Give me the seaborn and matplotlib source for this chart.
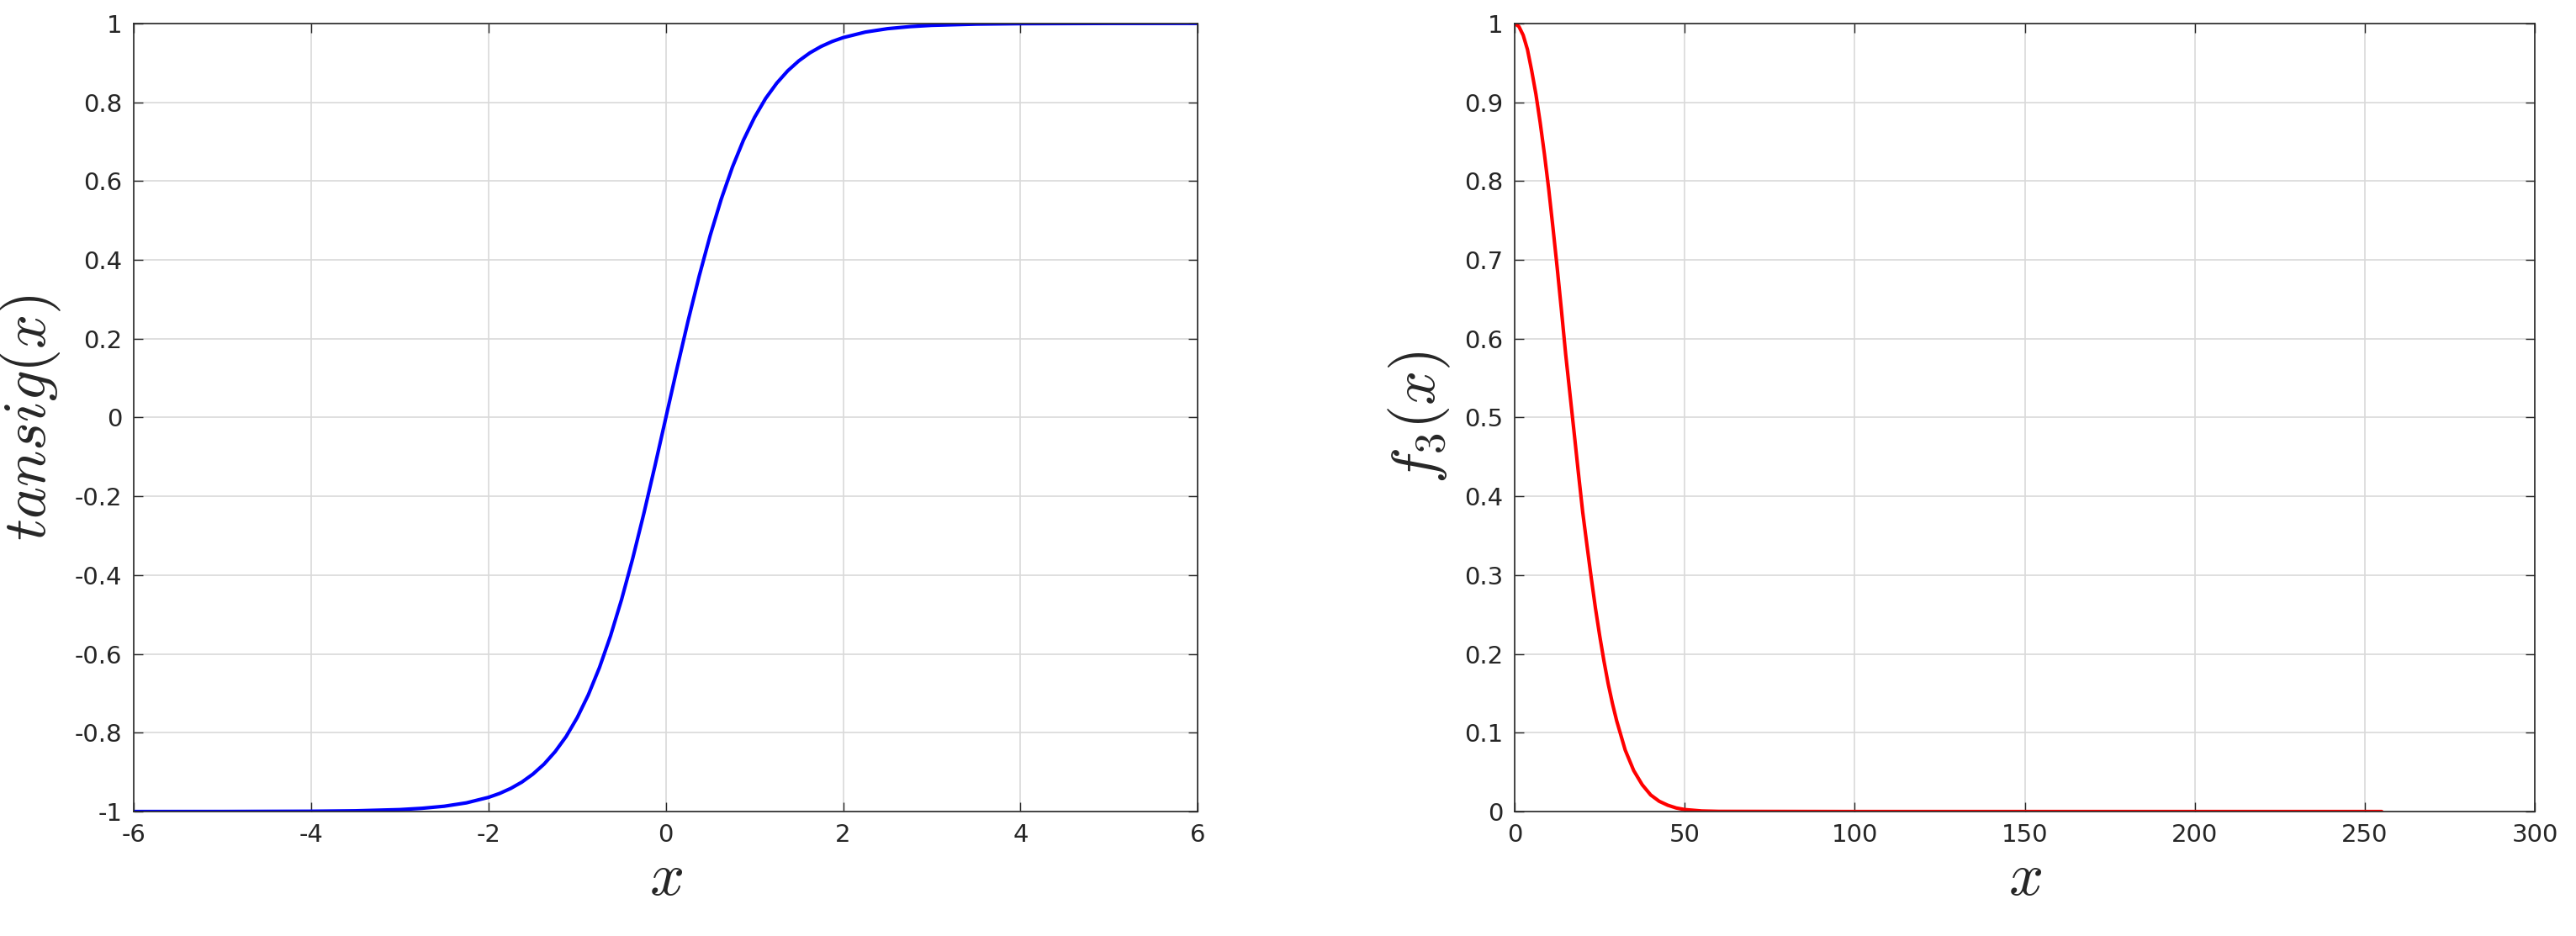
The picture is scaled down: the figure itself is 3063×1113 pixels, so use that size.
import matplotlib
matplotlib.use("Agg")
import matplotlib.pyplot as plt
import seaborn as sns
import pandas as pd

sns.set_theme(style="ticks")
plt.rcParams['font.family'] = ['DejaVu Sans']
plt.rcParams['axes.unicode_minus'] = False
plt.rcParams['mathtext.fontset'] = 'cm'

tansig_x = [-6, -5, -4, -3.5, -3, -2.75, -2.5, -2.25, -2, -1.875, -1.75, -1.625, -1.5, -1.375, -1.25, -1.125,
            -1, -0.875, -0.75, -0.625, -0.5, -0.375, -0.25, -0.125, 0,
            0.125, 0.25, 0.375, 0.5, 0.625, 0.75, 0.875, 1, 1.125, 1.25, 1.375, 1.5, 1.625, 1.75, 1.875, 2,
            2.25, 2.5, 2.75, 3, 3.5, 4, 5, 6]
tansig_y = [-1.0, -0.9999, -0.9993, -0.9982, -0.9951, -0.9918, -0.9866, -0.9780, -0.9640, -0.9541, -0.9414,
            -0.9254, -0.9051, -0.8799, -0.8483, -0.8096, -0.7616, -0.7039, -0.6351, -0.5546, -0.4621,
            -0.3584, -0.2449, -0.1244, 0.0,
            0.1244, 0.2449, 0.3584, 0.4621, 0.5546, 0.6351, 0.7039, 0.7616, 0.8096, 0.8483, 0.8799, 0.9051,
            0.9254, 0.9414, 0.9541, 0.9640, 0.9780, 0.9866, 0.9918, 0.9951, 0.9982, 0.9993, 0.9999, 1.0]
f3_x = [0, 1.25, 2.5, 3.75, 5, 6.25, 7.5, 8.75, 10, 11.25, 12.5, 13.75, 15, 16.25, 17.5, 18.75, 20, 21.25,
        22.5, 23.75, 25, 26.25, 27.5, 28.75, 30, 32.5, 35, 37.5, 40, 42.5, 45, 47.5, 50, 55, 60, 100, 150, 200, 255]
f3_y = [1.0, 0.996, 0.985, 0.967, 0.94, 0.91, 0.874, 0.834, 0.79, 0.741, 0.69, 0.636, 0.58, 0.53, 0.48,
        0.429, 0.38, 0.338, 0.297, 0.258, 0.223, 0.191, 0.162, 0.137, 0.115, 0.078, 0.052, 0.034, 0.021,
        0.013, 0.008, 0.0045, 0.0025, 0.0007, 0.0002, 0, 0, 0, 0]

fig = plt.figure(figsize=(30.63, 11.13), dpi=100)
ax1 = fig.add_axes([0.052, 0.133, 0.413, 0.842])
ax2 = fig.add_axes([0.588, 0.133, 0.396, 0.842])

sns.lineplot(data=pd.DataFrame({'x': tansig_x, 'y': tansig_y}), x='x', y='y', ax=ax1, color='#0000ff', linewidth=3)
sns.lineplot(data=pd.DataFrame({'x': f3_x, 'y': f3_y}), x='x', y='y', ax=ax2, color='#ff0000', linewidth=3)

ax1.set_xlim(-6, 6); ax1.set_ylim(-1, 1)
ax1.set_xticks(range(-6, 7, 2)); ax1.set_yticks([i / 10 for i in range(-10, 11, 2)])
ax1.set_yticklabels(['-1', '-0.8', '-0.6', '-0.4', '-0.2', '0', '0.2', '0.4', '0.6', '0.8', '1'])
ax1.set_xlabel(r'$x$', fontsize=52)
ax1.set_ylabel(r'$tansig(x)$', fontsize=52)

ax2.set_xlim(0, 300); ax2.set_ylim(0, 1)
ax2.set_xticks(range(0, 301, 50)); ax2.set_yticks([i / 10 for i in range(0, 11)])
ax2.set_yticklabels(['0', '0.1', '0.2', '0.3', '0.4', '0.5', '0.6', '0.7', '0.8', '0.9', '1'])
ax2.set_xlabel(r'$x$', fontsize=52)
ax2.set_ylabel(r'$f_3(x)$', fontsize=52)

for ax in (ax1, ax2):
    ax.grid(True, color='#d9d9d9', linewidth=1.2)
    ax.tick_params(direction='in', labelsize=21, length=8, width=1, pad=10,
                   top=True, right=True, colors='#262626')
    for s in ax.spines.values():
        s.set_visible(True); s.set_color('#262626'); s.set_linewidth(1.2)
    ax.xaxis.labelpad = 2
    ax.yaxis.labelpad = 10

fig.savefig('out.png', dpi=100)
